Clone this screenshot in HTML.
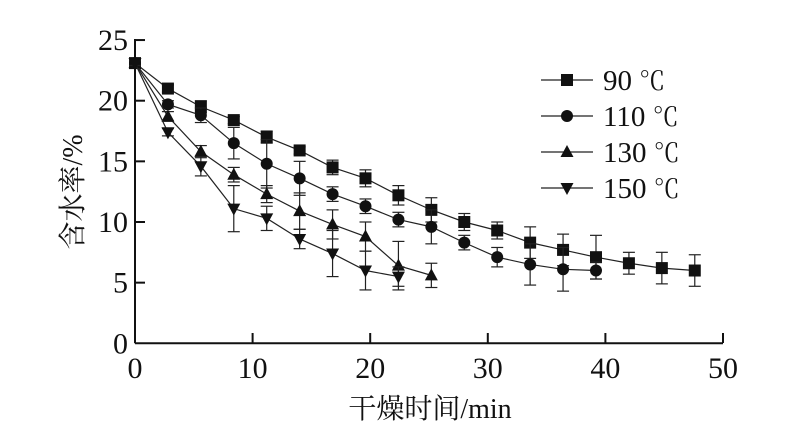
<!DOCTYPE html>
<html><head><meta charset="utf-8"><style>
html,body{margin:0;padding:0;background:#fff;}
svg{display:block;}
text{font-family:"Liberation Serif","Noto Serif CJK SC",serif;fill:#111;}
</style></head><body>
<svg id="s" width="802" height="448" xmlns="http://www.w3.org/2000/svg"></svg>
<script>
const s=document.getElementById('s');
const X=t=>135+11.76*t, Y=v=>343.3-12.13*v;
let h='';
h+=`<line x1="135" y1="343.3" x2="723" y2="343.3" stroke="#111" stroke-width="2"/>`;
h+=`<line x1="135" y1="343.3" x2="135" y2="39" stroke="#111" stroke-width="2"/>`;
for(let i=0;i<=5;i++){const x=X(i*10);
 if(i>0)h+=`<line x1="${x}" y1="343" x2="${x}" y2="333" stroke="#111" stroke-width="2"/>`;
 h+=`<text x="${x}" y="378" font-size="30" text-anchor="middle">${i*10}</text>`;}
for(let i=0;i<=5;i++){const y=Y(i*5);
 if(i>0)h+=`<line x1="135" y1="${y}" x2="145" y2="${y}" stroke="#111" stroke-width="2"/>`;
 h+=`<text x="128" y="${y+10}" font-size="30" text-anchor="end">${i*5}</text>`;}
h+=`<text x="430" y="418" font-size="28" text-anchor="middle">干燥时间/min</text>`;
h+=`<text transform="translate(82,192) rotate(-90)" font-size="28" text-anchor="middle">含水率/%</text>`;
const T=[0,2.8,5.6,8.4,11.2,14,16.8,19.6,22.4,25.2,28,30.8,33.6,36.4,39.2,42,44.8,47.6];
const D=[
 {m:'sq',v:[23.1,21.0,19.5,18.4,17.0,15.9,14.5,13.6,12.2,11.0,10.0,9.3,8.3,7.7,7.1,6.6,6.2,6.0],
  e:[0.2,0.3,0.5,0.3,0.5,0.3,0.6,0.7,0.8,1.0,0.7,0.7,1.3,1.3,1.8,0.9,1.3,1.3]},
 {m:'ci',v:[23.1,19.7,18.8,16.5,14.8,13.6,12.3,11.3,10.2,9.6,8.3,7.1,6.5,6.1,6.0],
  e:[0.2,0.3,0.6,1.3,2.0,1.4,0.6,0.6,0.6,1.4,0.6,0.8,1.7,1.8,0.7]},
 {m:'up',v:[23.1,18.7,15.8,13.9,12.3,10.9,9.8,8.8,6.4,5.6],
  e:[0.2,0.4,0.5,0.6,0.7,1.5,1.2,1.2,2.0,1.0]},
 {m:'dn',v:[23.1,17.4,14.6,11.1,10.3,8.6,7.4,6.0,5.5],
  e:[0.2,0.3,0.8,1.9,1.0,0.8,1.9,1.6,0.8]}];
function mk(m,x,y){
 if(m=='sq')return `<rect x="${x-6}" y="${y-6}" width="12" height="12" fill="#111"/>`;
 if(m=='ci')return `<circle cx="${x}" cy="${y}" r="6" fill="#111"/>`;
 if(m=='up')return `<polygon points="${x},${y-7} ${x-6.5},${y+5} ${x+6.5},${y+5}" fill="#111"/>`;
 return `<polygon points="${x},${y+7} ${x-6.5},${y-5} ${x+6.5},${y-5}" fill="#111"/>`;}
D.forEach(d=>{
 let p=d.v.map((v,i)=>X(T[i])+','+Y(v)).join(' ');
 h+=`<polyline points="${p}" fill="none" stroke="#222" stroke-width="1.2"/>`;
 d.v.forEach((v,i)=>{const x=X(T[i]),e=d.e[i],y1=Y(v+e),y2=Y(v-e);
  h+=`<line x1="${x}" y1="${y1}" x2="${x}" y2="${y2}" stroke="#222" stroke-width="1.2"/>`;
  h+=`<line x1="${x-6}" y1="${y1}" x2="${x+6}" y2="${y1}" stroke="#222" stroke-width="1.2"/>`;
  h+=`<line x1="${x-6}" y1="${y2}" x2="${x+6}" y2="${y2}" stroke="#222" stroke-width="1.2"/>`;
  h+=mk(d.m,x,Y(v));});
});
const L=['90','110','130','150'],LY=[80,116,152,188],M=['sq','ci','up','dn'];
L.forEach((l,i)=>{const y=LY[i];
 h+=`<line x1="541" y1="${y}" x2="593" y2="${y}" stroke="#222" stroke-width="1.2"/>`;
 h+=mk(M[i],567,y);
 h+=`<text x="603" y="${y+10}" font-size="29">${l} <tspan font-size="26">℃</tspan></text>`;});
s.innerHTML=h;
</script>
</body></html>
